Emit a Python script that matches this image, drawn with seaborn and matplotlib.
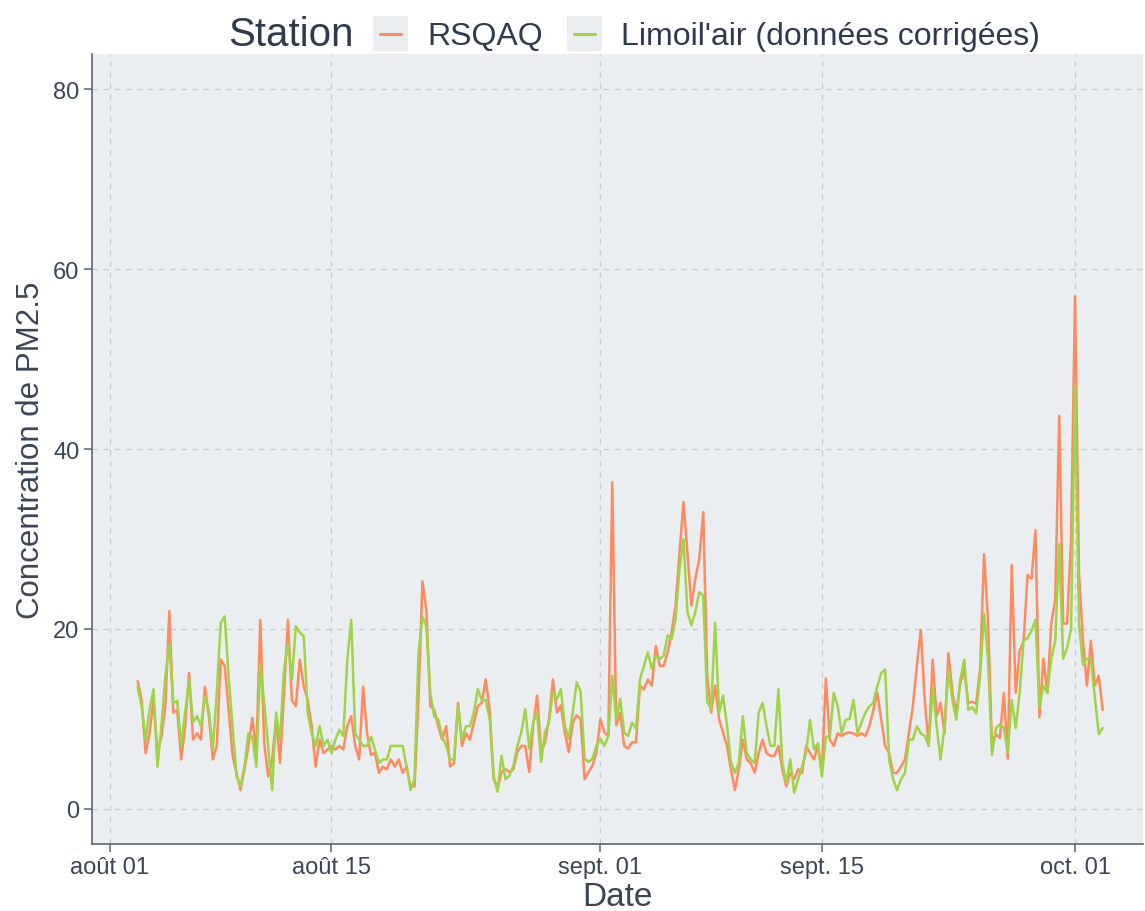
import pandas as pd
import seaborn as sns
import matplotlib.pyplot as plt
from matplotlib.patches import Rectangle
from matplotlib.lines import Line2D
from matplotlib.legend_handler import HandlerBase

# PM2.5 readings, one value every 6 hours starting 2 Aug 18:00
start = "2022-08-02 18:00"
rsqaq = [
    14.2,
    12.1, 6.2, 8.4, 12.1,     # 08-03
    6.2, 8.0, 11.4, 22.0,
    10.7, 11.0, 5.5, 9.2,
    15.1, 7.7, 8.4, 7.7,
    13.6, 10.3, 5.5, 7.0,
    16.6, 15.9, 11.0, 5.9,
    4.0, 2.1, 4.4, 7.0,
    10.1, 6.2, 21.0, 7.3,     # 08-10
    3.6, 5.5, 9.9, 5.1,
    12.9, 21.0, 12.1, 11.4,
    16.6, 13.6, 12.1, 9.2,
    4.7, 7.7, 6.2, 6.6,
    7.0, 6.6, 7.0, 6.6,       # 08-15
    9.2, 10.3, 7.0, 5.5,
    13.6, 8.4, 6.0, 6.2,
    4.0, 4.7, 4.4, 5.5,
    4.7, 5.5, 4.0, 4.7,
    2.5, 2.5, 12.1, 25.3,     # 08-20
    22.1, 11.4, 11.0, 9.2,
    7.7, 9.2, 4.7, 5.1,
    11.8, 7.0, 8.4, 7.7,
    9.6, 11.4, 11.8, 14.4,
    11.0, 3.3, 2.2, 4.1,      # 08-25
    4.4, 4.1, 4.4, 6.3,
    7.0, 7.0, 4.1, 9.3,
    12.6, 6.3, 7.4, 10.0,
    14.4, 10.7, 11.5, 8.5,
    6.3, 9.6, 10.4, 10.0,     # 08-30
    3.3, 4.1, 4.8, 6.3,
    10.0, 8.5, 8.1, 36.3,     # 09-01
    9.3, 10.7, 7.0, 6.7,
    7.4, 7.4, 13.7, 13.3,
    14.4, 13.7, 18.1, 15.9,
    15.9, 17.4, 19.6, 22.6,   # 09-05
    28.5, 34.1, 28.5, 22.6,
    25.6, 27.8, 33.0, 14.8,
    10.7, 13.7, 10.0, 8.5,
    7.0, 4.4, 2.1, 4.4,
    7.7, 5.5, 5.1, 4.0,       # 09-10
    6.2, 7.7, 6.2, 5.9,
    5.9, 7.0, 4.4, 2.5,
    4.0, 3.3, 4.4, 4.0,
    7.0, 6.2, 5.5, 7.0,
    4.0, 14.5, 7.7, 7.0,      # 09-15
    8.4, 8.1, 8.4, 8.5,
    8.4, 8.1, 8.4, 8.1,
    9.2, 11.0, 12.9, 9.9,
    7.0, 6.2, 4.0, 4.0,
    4.7, 5.5, 8.4, 11.4,      # 09-20
    15.9, 19.9, 12.1, 7.0,
    16.6, 10.3, 11.8, 8.4,
    17.3, 12.9, 10.7, 14.0,
    15.5, 11.8, 11.9, 11.7,
    15.6, 28.3, 21.0, 7.1,    # 09-25
    8.3, 7.9, 12.9, 5.6,
    27.1, 12.9, 17.5, 18.7,
    26.0, 25.6, 31.0, 10.2,
    16.7, 12.9, 20.6, 23.3,
    43.7, 20.6, 20.6, 30.0,   # 09-30
    57.0, 26.3, 18.7, 13.7,   # 10-01
    18.7, 13.7, 14.8, 11.0,
]
limoilair = [
    13.6,
    11.4, 7.7, 11.0, 13.3,
    4.7, 9.2, 14.7, 18.4,
    11.8, 12.0, 7.0, 10.7,
    14.4, 9.6, 10.3, 9.2,
    12.5, 11.0, 6.6, 12.9,
    20.7, 21.4, 14.7, 9.2,
    3.6, 2.5, 4.7, 8.4,
    8.0, 4.7, 16.0, 11.8,
    7.0, 2.1, 10.7, 7.7,
    15.5, 18.4, 14.4, 20.3,
    19.6, 19.2, 10.7, 8.4,
    7.0, 9.2, 7.0, 7.7,
    6.2, 7.7, 8.8, 8.1,
    16.6, 21.0, 8.4, 7.7,
    7.0, 7.0, 8.0, 6.6,
    5.1, 5.5, 5.5, 7.0,
    7.0, 7.0, 7.0, 4.7,
    2.1, 3.3, 17.3, 21.4,
    20.3, 12.9, 10.3, 9.9,
    8.1, 7.0, 5.5, 5.5,
    11.4, 7.7, 9.2, 9.2,
    10.7, 13.3, 12.1, 12.1,
    10.0, 3.7, 1.9, 5.9,
    3.3, 3.7, 4.8, 7.0,
    8.5, 11.1, 6.7, 9.6,
    10.7, 5.2, 8.5, 9.6,
    13.0, 12.2, 13.3, 9.3,
    7.8, 10.7, 14.1, 13.0,
    5.6, 5.2, 5.6, 7.0,
    7.8, 7.0, 8.1, 14.8,
    10.0, 12.2, 8.5, 8.1,
    9.6, 8.9, 14.4, 15.9,
    17.4, 15.6, 17.0, 16.7,
    17.0, 19.3, 18.9, 21.1,
    26.7, 30.0, 21.9, 20.4,
    21.9, 24.1, 23.7, 11.9,
    11.1, 20.7, 10.7, 12.6,
    9.3, 5.2, 4.0, 5.1,
    10.3, 6.2, 5.5, 5.1,
    10.7, 11.8, 9.2, 7.0,
    7.0, 13.3, 5.1, 2.9,
    5.5, 1.8, 3.3, 4.7,
    6.2, 9.9, 6.6, 7.3,
    3.6, 8.0, 8.1, 12.9,
    11.4, 8.4, 9.9, 10.0,
    12.1, 8.4, 9.6, 10.7,
    11.4, 11.8, 13.6, 15.1,
    15.5, 5.5, 3.3, 2.1,
    3.3, 4.0, 7.7, 7.7,
    9.2, 8.4, 8.1, 7.0,
    13.6, 9.2, 5.5, 9.2,
    15.5, 12.1, 9.9, 14.4,
    16.6, 11.0, 11.3, 10.6,
    14.8, 21.7, 16.7, 6.0,
    9.0, 9.4, 9.0, 6.3,
    12.1, 9.0, 12.9, 18.7,
    19.0, 19.8, 21.0, 11.3,
    13.7, 12.9, 16.7, 18.7,
    29.4, 16.7, 17.9, 20.0,
    47.0, 20.6, 16.0, 16.7,
    16.7, 12.5, 8.3, 9.0,
]
stations = ["RSQAQ", "Limoil'air (données corrigées)"]
colors = ["#ff8a5e", "#9fd34a"]
tick_dates = ["2022-08-01", "2022-08-15", "2022-09-01", "2022-09-15", "2022-10-01"]
tick_labels = ["août 01", "août 15", "sept. 01", "sept. 15", "oct. 01"]

dates = pd.date_range(start, periods=len(rsqaq), freq="6h")
df = pd.concat([
    pd.DataFrame({"Date": dates, "PM": rsqaq, "Station": stations[0]}),
    pd.DataFrame({"Date": dates, "PM": limoilair, "Station": stations[1]}),
], ignore_index=True)

sns.set_theme(style="ticks")
plt.rcParams["font.family"] = ["Liberation Sans", "DejaVu Sans"]

panel = "#ebeef0"
axis_col = "#5b6575"
text_col = "#3a4658"


class KeyHandler(HandlerBase):
    # grey key box with a short coloured line in the middle, like ggplot keys
    def create_artists(self, legend, orig_handle, xdescent, ydescent,
                       width, height, fontsize, trans):
        x0, y0 = -xdescent, -ydescent
        box = Rectangle((x0, y0), width, height, facecolor=panel,
                        edgecolor="none", transform=trans)
        line = Line2D([x0 + 0.2 * width, x0 + 0.8 * width],
                      [y0 + height / 2, y0 + height / 2],
                      color=orig_handle.get_color(), lw=2.2, transform=trans)
        return [box, line]


fig = plt.figure(figsize=(11.45, 9.12), dpi=100)
ax = fig.add_axes([0.0803, 0.0735, 0.918, 0.866])
ax.set_facecolor(panel)

sns.lineplot(data=df, x="Date", y="PM", hue="Station", hue_order=stations,
             palette=dict(zip(stations, colors)), estimator=None,
             linewidth=1.8, ax=ax, legend=False)

t0 = pd.Timestamp("2022-08-01")
ax.set_xlim(t0 - pd.Timedelta(days=1.14), t0 + pd.Timedelta(days=65.3))
ax.set_ylim(-3.9, 83.9)
ax.set_xticks(pd.to_datetime(tick_dates))
ax.set_xticklabels(tick_labels)
ax.set_yticks([0, 20, 40, 60, 80])

ax.grid(True, color="#c8ccd0", linestyle=(0, (4, 4)), linewidth=1)
ax.set_axisbelow(True)
for s in ["top", "right"]:
    ax.spines[s].set_visible(False)
for s in ["left", "bottom"]:
    ax.spines[s].set_color(axis_col)
    ax.spines[s].set_linewidth(1.2)
ax.tick_params(axis="both", labelsize=17, length=6, width=1.1, color=axis_col,
               labelcolor=text_col, pad=3)

ax.set_xlabel("Date", fontsize=24, color=text_col, labelpad=2)
ax.set_ylabel("Concentration de PM2.5", fontsize=22.5, color=text_col, labelpad=5)

# legend across the top, title on the left
fig.text(0.199, 0.962, "Station", fontsize=29, color="#2e3b4e", va="center", ha="left")
handles = [Line2D([], [], color=c) for c in colors]
fig.legend(handles=handles, labels=stations, loc="center left",
           bbox_to_anchor=(0.326, 0.962), ncol=2, frameon=False, fontsize=23,
           labelcolor="#2e3b4e", handlelength=1.1, handleheight=1.3,
           handletextpad=0.6, columnspacing=0.75, borderpad=0, borderaxespad=0,
           handler_map={Line2D: KeyHandler()})

fig.savefig("out.png", dpi=100)
